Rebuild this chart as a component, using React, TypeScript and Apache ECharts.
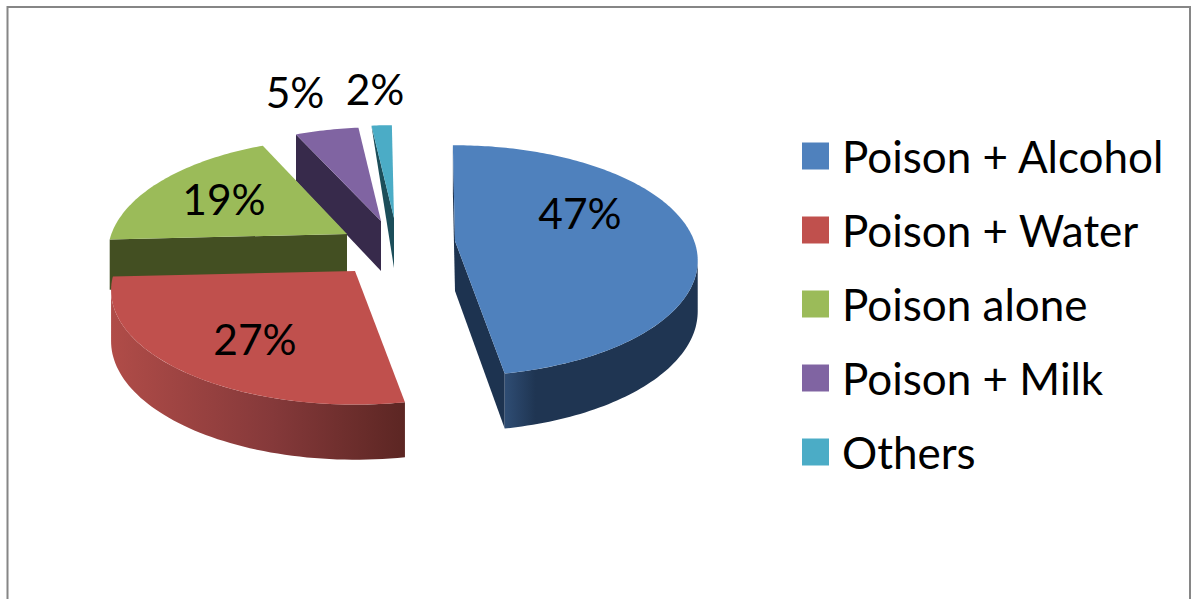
import React, { useEffect, useRef } from "react";
import * as echarts from "echarts";

// ---- data ----
const categories = ["Poison + Alcohol", "Poison + Water", "Poison alone", "Poison + Milk", "Others"];
const shares = [47.4, 27, 19, 5, 1.6];

// ---- styles ----
const topColors = ["#4F81BD", "#C0504D", "#9BBB59", "#8064A2", "#4BACC6"];
const cutColors = ["#1D3350", "#5C2623", "#434F22", "#372A4B", "#1C4E5A"];
const wallFrom = ["#2F4D74", "#B04C48", "#434F22", "#372A4B", "#1C4E5A"];
const wallMid = ["#1F3552", "#85393A", "#434F22", "#372A4B", "#1C4E5A"];
const wallTo = ["#1F3552", "#5C2623", "#434F22", "#372A4B", "#1C4E5A"];
const wallMidStop = [0.16, 0.55, 0.5, 0.5, 0.5];
const zOrder = [5, 4, 3, 2, 1];

// ---- layout ----
const pieCentre = [398, 242];
const radiusX = 238;
const radiusY = 112;
const perspective = 0.17;
const thickness = 50;
const startDeg = -0.6;
const explodeOffset = [[57, -1], [-43, 29], [-51, -8], [-17, -21], [-4, -24]];
const radiusScale = [[1.005, 1], [1.01, 0.99], [0.99, 1], [1, 0.98], [1, 0.97]];
const rimDepth = [1, 1, 1, 1, 0];
const labelOffset = [[125, -29], [-100, 67], [-123, -36], [-86, -130], [-19, -130]];
const labelFont = "Lato";
const labelSize = 42.5;
const legendSize = 44;

const total = shares.reduce((a, b) => a + b, 0);

function rim(tDeg: number, i: number, apex: number[]) {
  const t = (tDeg * Math.PI) / 180;
  const f = 1 / (1 + perspective * Math.cos(t));
  return [
    apex[0] + radiusX * radiusScale[i][0] * Math.sin(t) * f,
    apex[1] - radiusY * radiusScale[i][1] * Math.cos(t) * f,
    f,
  ];
}
const drop = (f: number) => thickness * (0.5 + 0.5 * f);
const cross = (a: number[], b: number[], o: number[]) =>
  (a[0] - o[0]) * (b[1] - o[1]) - (a[1] - o[1]) * (b[0] - o[0]);

function makeRenderItem(i: number) {
  return (_params: any, api: any) => {
    const value = api.value(0) as number;
    let before = 0;
    for (let k = 0; k < i; k++) before += shares[k];
    const t0 = startDeg + (before / total) * 360;
    const t1 = t0 + (value / total) * 360;
    const apex = [pieCentre[0] + explodeOffset[i][0], pieCentre[1] + explodeOffset[i][1]];
    const mid = rim((t0 + t1) / 2, i, apex);
    const children: any[] = [];

    // cut walls
    [t0, t1].forEach((t) => {
      const p = rim(t, i, apex);
      const below = [apex[0], apex[1] + 1];
      if (cross(p, mid, apex) * cross(p, below, apex) < 0) {
        children.push({
          type: "polygon",
          shape: {
            points: [
              [p[0], p[1]],
              [apex[0], apex[1]],
              [apex[0], apex[1] + thickness],
              [p[0], p[1] + drop(p[2]) * rimDepth[i]],
            ],
          },
          style: { fill: cutColors[i] },
        });
      }
    });

    // outer front wall
    const frontFrom = Math.max(t0, 99.8);
    const frontTo = Math.min(t1, 260.2);
    if (frontTo > frontFrom) {
      const upper: number[][] = [];
      const lower: number[][] = [];
      for (let t = frontFrom; t <= frontTo + 0.001; t += (frontTo - frontFrom) / 60) {
        const p = rim(t, i, apex);
        upper.push([p[0], p[1]]);
        lower.unshift([p[0], p[1] + drop(p[2])]);
      }
      children.push({
        type: "polygon",
        shape: { points: upper.concat(lower) },
        style: {
          fill: new echarts.graphic.LinearGradient(0, 0, 1, 0, [
            { offset: 0, color: wallFrom[i] },
            { offset: wallMidStop[i], color: wallMid[i] },
            { offset: 1, color: wallTo[i] },
          ]),
        },
      });
    }

    // top face
    const top: number[][] = [[apex[0], apex[1]]];
    const steps = Math.max(8, Math.ceil(t1 - t0));
    for (let s = 0; s <= steps; s++) {
      const p = rim(t0 + ((t1 - t0) * s) / steps, i, apex);
      top.push([p[0], p[1]]);
    }
    children.push({ type: "polygon", shape: { points: top }, style: { fill: topColors[i] } });

    // percentage label
    children.push({
      type: "text",
      style: {
        text: `${Math.round((value / total) * 100)}%`,
        x: apex[0] + labelOffset[i][0],
        y: apex[1] + labelOffset[i][1],
        align: "center",
        verticalAlign: "middle",
        fill: "#000000",
        fontFamily: labelFont,
        fontSize: labelSize,
      },
    });
    return { type: "group", children };
  };
}

export default function App() {
  const ref = useRef<HTMLDivElement>(null);
  useEffect(() => {
    document.body.style.margin = "0";
    const chart = echarts.init(ref.current!, undefined, { renderer: "svg" });
    chart.setOption({
      animation: false,
      backgroundColor: "#FFFFFF",
      graphic: [
        {
          type: "polyline",
          shape: { points: [[7.5, 599], [7.5, 7], [1190, 7], [1190, 599]] },
          style: { stroke: "#868686", lineWidth: 2, fill: "none" },
        },
      ],
      legend: {
        orient: "vertical",
        left: 802,
        top: 134,
        padding: 0,
        itemWidth: 27,
        itemHeight: 27,
        itemGap: 30,
        icon: "rect",
        data: categories,
        selectedMode: false,
        textStyle: {
          fontFamily: labelFont,
          fontSize: legendSize,
          color: "#000000",
          lineHeight: 27,
          padding: [0, 0, 6, 8],
        },
      },
      series: categories.map((name, i) => ({
        type: "custom",
        name,
        coordinateSystem: "none",
        z: zOrder[i],
        clip: false,
        silent: true,
        itemStyle: { color: topColors[i] },
        renderItem: makeRenderItem(i),
        data: [[shares[i]]],
      })),
    });
    return () => chart.dispose();
  }, []);
  return <div ref={ref} style={{ position: "absolute", left: 0, top: 0, width: 1193, height: 599, overflow: "hidden" }} />;
}
